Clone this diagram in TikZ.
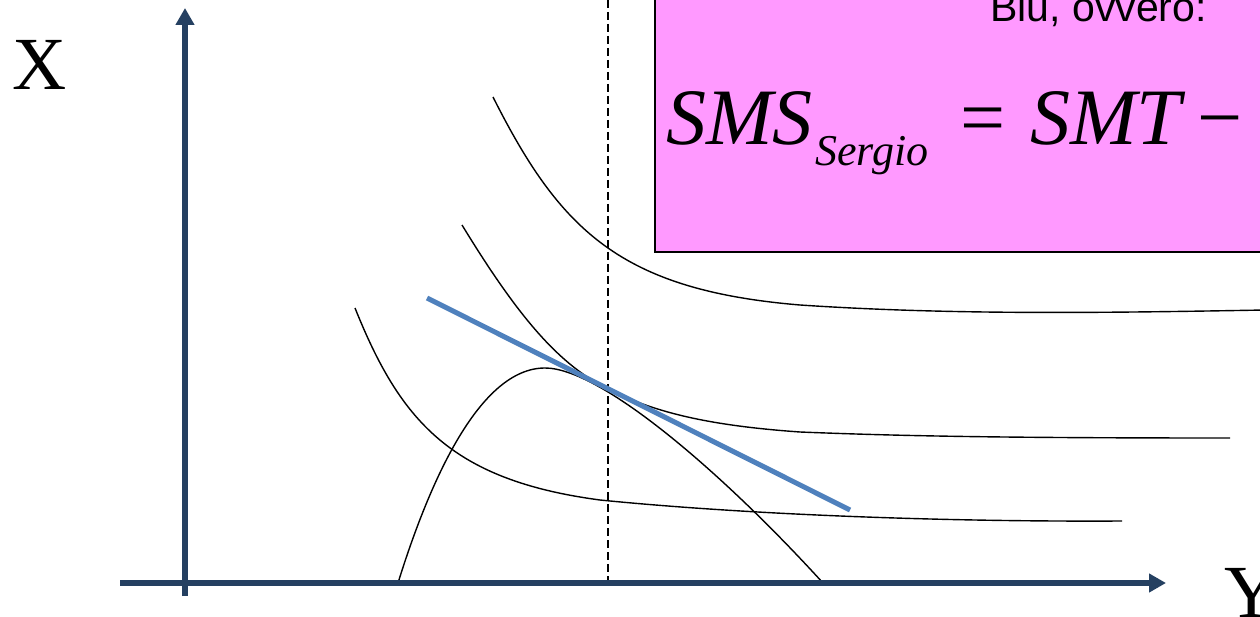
\documentclass[tikz,border=0pt]{standalone}
\usepackage{fontspec}
\setmainfont{Liberation Serif}
\newfontfamily\arialf{Liberation Sans}
\usetikzlibrary{arrows.meta}
\definecolor{axisblue}{HTML}{254061}
\definecolor{lineblue}{HTML}{4F81BD}
\definecolor{boxpink}{HTML}{FF99FF}
\tikzset{
  axisline/.style={draw=axisblue, line width=5.5pt, -{Triangle[length=17pt,width=18pt]}},
  curveline/.style={draw=black, line width=1.4pt},
  budget/.style={draw=lineblue, line width=5pt},
  dashline/.style={draw=black, line width=1.2pt, dash pattern=on 8pt off 4pt},
  bigtext/.style={inner sep=0pt, font=\fontsize{75}{75}\selectfont},
  formula/.style={inner sep=0pt, anchor=base west, font=\fontsize{80}{80}\selectfont\itshape},
}
\begin{document}
\begin{tikzpicture}[x=1pt,y=-1pt]
\clip (0,0) rectangle (1260,617);
\fill[white] (0,0) rectangle (1260,617);
% pink box
\node[draw=black, line width=2pt, fill=boxpink, minimum width=700pt, minimum height=300pt, anchor=south west, inner sep=0pt] (box) at (654,253) {};
\node[inner sep=0pt, anchor=base west, font=\arialf\fontsize{41}{41}\selectfont] (blu) at (990,22) {Blu, ovvero:};
\node[formula] (sms) at (666,145) {SMS};
\node[formula, font=\fontsize{44}{44}\selectfont\itshape] (sub) at (815,166) {Sergio};
\node[formula, font=\fontsize{80}{80}\selectfont\upshape] (eq) at (960,145) {=};
\node[formula] (smt) at (1030,145) {SMT};
\node[formula, font=\fontsize{80}{80}\selectfont\upshape] (minus) at (1197,145) {−};
% dashed line
\coordinate (dtop) at (608,0);
\coordinate (dbot) at (608,583);
\draw[dashline] (dtop) -- (dbot);
% curves
\draw[curveline] (493,97) .. controls (560,230) and (620,290) .. (800,305) .. controls (950,315) and (1100,313) .. (1265,310);
\draw[curveline] (462,225) .. controls (520,320) and (560,365) .. (608,389) .. controls (650,410) and (700,425) .. (800,432) .. controls (900,436) and (1000,438) .. (1230,438);
\draw[curveline] (355,308) .. controls (400,420) and (450,480) .. (600,500) .. controls (750,515) and (950,522) .. (1122,521);
\draw[curveline] (398,583) .. controls (430,480) and (480,368) .. (545,368) .. controls (600,368) and (720,470) .. (823,583);
% budget line
\coordinate (b1) at (427,298);
\coordinate (b2) at (850,510);
\draw[budget] (b1) -- (b2);
% axes
\coordinate (o1) at (185,596);
\coordinate (ytip) at (185,8);
\coordinate (o2) at (120,583);
\coordinate (xtip) at (1166,583);
\draw[axisline] (o1) -- (ytip);
\draw[axisline] (o2) -- (xtip);
% labels
\node[bigtext, anchor=base west] (xl) at (12,90) {X};
\node[bigtext, anchor=base west] (yl) at (1224,617) {Y};
\end{tikzpicture}
\end{document}
